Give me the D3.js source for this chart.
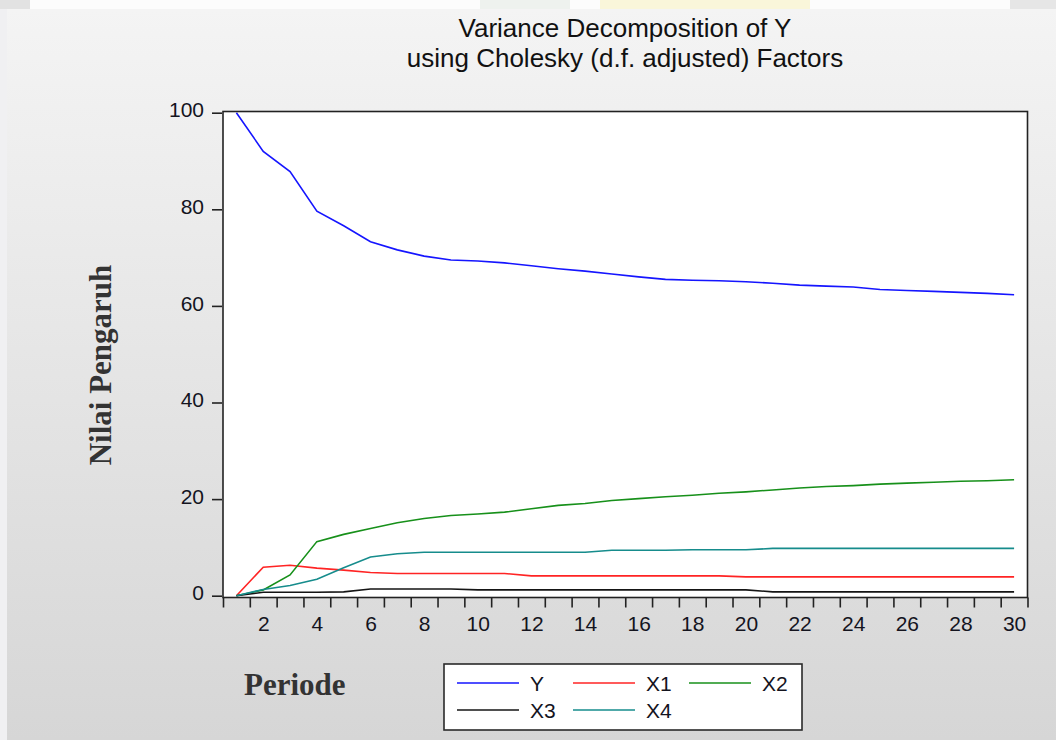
<!DOCTYPE html>
<html>
<head>
<meta charset="utf-8">
<script src="https://cdn.jsdelivr.net/npm/d3@7"></script>
<style>
  html, body { margin: 0; padding: 0; background: #f0f0f2; }
  svg { display: block; }
</style>
</head>
<body>
<svg id="main-svg" width="1056" height="740"></svg>
<script>
// Periods 1..30
const periods = d3.range(1, 31);

// Series values (percent of variance)
const seriesY = [100, 92.0, 87.8, 79.6, 76.6, 73.3, 71.6, 70.3, 69.5, 69.3,
                 68.9, 68.3, 67.7, 67.2, 66.6, 66.0, 65.5, 65.3, 65.2, 65.0,
                 64.7, 64.3, 64.1, 63.9, 63.4, 63.2, 63.0, 62.8, 62.6, 62.3];
const seriesX1 = [0, 5.9, 6.3, 5.7, 5.3, 4.8, 4.6, 4.6, 4.6, 4.6,
                  4.6, 4.1, 4.1, 4.1, 4.1, 4.1, 4.1, 4.1, 4.1, 3.9,
                  3.9, 3.9, 3.9, 3.9, 3.9, 3.9, 3.9, 3.9, 3.9, 3.9];
const seriesX2 = [0, 1.2, 4.3, 11.2, 12.7, 13.9, 15.1, 16.0, 16.6, 16.9,
                  17.3, 18.0, 18.7, 19.1, 19.7, 20.1, 20.5, 20.8, 21.2, 21.5,
                  21.9, 22.3, 22.6, 22.8, 23.1, 23.3, 23.5, 23.7, 23.8, 24.0];
const seriesX3 = [0, 0.7, 0.7, 0.7, 0.8, 1.4, 1.4, 1.4, 1.4, 1.2,
                  1.2, 1.2, 1.2, 1.2, 1.2, 1.2, 1.2, 1.2, 1.2, 1.2,
                  0.8, 0.8, 0.8, 0.8, 0.8, 0.8, 0.8, 0.8, 0.8, 0.8];
const seriesX4 = [0, 1.3, 2.1, 3.4, 5.8, 8.0, 8.7, 9.0, 9.0, 9.0,
                  9.0, 9.0, 9.0, 9.0, 9.4, 9.4, 9.4, 9.5, 9.5, 9.5,
                  9.8, 9.8, 9.8, 9.8, 9.8, 9.8, 9.8, 9.8, 9.8, 9.8];

const seriesNames = ['Y', 'X1', 'X2', 'X3', 'X4'];
const seriesColors = ['#1515ff', '#ff2424', '#17901a', '#151515', '#168c8c'];
const seriesValues = [seriesY, seriesX1, seriesX2, seriesX3, seriesX4];

const yTicks = [0, 20, 40, 60, 80, 100];
const xLabelTicks = [2, 4, 6, 8, 10, 12, 14, 16, 18, 20, 22, 24, 26, 28, 30];

const titleLines = ['Variance Decomposition of Y', 'using Cholesky (d.f. adjusted) Factors'];

const svg = d3.select('#main-svg');

// Background: gradient panel
const defs = svg.append('defs');
const grad = defs.append('linearGradient')
    .attr('id', 'bg-grad')
    .attr('x1', 0).attr('y1', 0).attr('x2', 0).attr('y2', 1);
grad.append('stop').attr('offset', '0%').attr('stop-color', '#f4f4f4');
grad.append('stop').attr('offset', '100%').attr('stop-color', '#d6d6d6');

svg.append('rect').attr('x', 0).attr('y', 0).attr('width', 1056).attr('height', 740)
    .attr('fill', '#f0f0f2');
svg.append('rect').attr('x', 7).attr('y', 9).attr('width', 1049).attr('height', 731)
    .attr('fill', 'url(#bg-grad)');
// top strip with faint watermark remains
svg.append('rect').attr('x', 0).attr('y', 0).attr('width', 1056).attr('height', 9)
    .attr('fill', '#fcfcfc');
svg.append('rect').attr('x', 0).attr('y', 0).attr('width', 30).attr('height', 9).attr('fill', '#e2e2e2');
svg.append('rect').attr('x', 480).attr('y', 0).attr('width', 90).attr('height', 9).attr('fill', '#eef2ee');
svg.append('rect').attr('x', 600).attr('y', 0).attr('width', 210).attr('height', 9).attr('fill', '#faf6da');
svg.append('rect').attr('x', 1010).attr('y', 0).attr('width', 46).attr('height', 9).attr('fill', '#e6e6e6');

// Scales
const x = d3.scaleLinear().domain([0.5, 30.5]).range([223, 1027.5]);
const y = d3.scaleLinear().domain([0, 100]).range([595.7, 112.7]);

// Plot area
svg.append('rect')
    .attr('x', x(0.5)).attr('y', 111.5)
    .attr('width', x(30.5) - x(0.5)).attr('height', 597.5 - 111.5)
    .attr('fill', '#ffffff');

// Lines
const line = d3.line()
    .x((d, i) => x(periods[i]))
    .y(d => y(d));

svg.append('g')
    .selectAll('path')
    .data(seriesValues)
    .enter()
    .append('path')
    .attr('d', d => line(d))
    .attr('fill', 'none')
    .attr('stroke', (d, i) => seriesColors[i])
    .attr('stroke-width', 1.6);

svg.append('rect')
    .attr('x', x(0.5)).attr('y', 111.5)
    .attr('width', x(30.5) - x(0.5)).attr('height', 597.5 - 111.5)
    .attr('fill', 'none')
    .attr('stroke', '#222')
    .attr('stroke-width', 1.6);

// Y axis
const yAxis = svg.append('g')
    .attr('transform', `translate(${x(0.5) - 1},0)`)
    .call(d3.axisLeft(y).tickValues(yTicks).tickSize(10).tickPadding(8));
yAxis.select('.domain').remove();
yAxis.selectAll('.tick line').attr('stroke', '#222').attr('stroke-width', 1.6);
yAxis.selectAll('.tick text')
    .attr('fill', '#14141e')
    .attr('font-family', 'Liberation Sans, Arial, sans-serif')
    .attr('font-size', 21)
    .attr('dy', '0.2em');

// X axis tick marks at period boundaries
const xTickMarks = svg.append('g')
    .attr('transform', 'translate(0,597.5)')
    .call(d3.axisBottom(x).tickValues(d3.range(0.5, 31, 1)).tickSize(10).tickFormat(''));
xTickMarks.select('.domain').remove();
xTickMarks.selectAll('.tick line').attr('stroke', '#222').attr('stroke-width', 1.6);

// X axis labels at period centers
const xLabels = svg.append('g')
    .attr('transform', 'translate(0,597.5)')
    .call(d3.axisBottom(x).tickValues(xLabelTicks).tickSize(0).tickPadding(19));
xLabels.select('.domain').remove();
xLabels.selectAll('.tick text')
    .attr('fill', '#14141e')
    .attr('font-family', 'Liberation Sans, Arial, sans-serif')
    .attr('font-size', 21);

// Title
svg.append('g')
    .selectAll('text')
    .data(titleLines)
    .enter()
    .append('text')
    .attr('x', 625)
    .attr('y', (d, i) => 36.5 + i * 30.5)
    .attr('text-anchor', 'middle')
    .attr('font-family', 'Liberation Sans, Arial, sans-serif')
    .attr('font-size', 26)
    .attr('fill', '#111')
    .text(d => d);

// Axis titles
svg.append('text')
    .attr('transform', 'translate(111,365) rotate(-90)')
    .attr('text-anchor', 'middle')
    .attr('font-family', 'Liberation Serif, Times New Roman, serif')
    .attr('font-weight', 'bold')
    .attr('font-size', 31)
    .attr('fill', '#333')
    .text('Nilai Pengaruh');

svg.append('text')
    .attr('x', 244)
    .attr('y', 695)
    .attr('font-family', 'Liberation Serif, Times New Roman, serif')
    .attr('font-weight', 'bold')
    .attr('font-size', 31)
    .attr('fill', '#333')
    .text('Periode');

// Legend
const legendCols = [457, 573, 689];
const legendRows = [683, 710];
const legend = svg.append('g');
legend.append('rect')
    .attr('x', 444).attr('y', 664).attr('width', 358).attr('height', 66)
    .attr('fill', '#ffffff').attr('stroke', '#2a2a2a').attr('stroke-width', 1.6);

const items = legend.selectAll('g.item')
    .data(seriesNames)
    .enter()
    .append('g')
    .attr('class', 'item')
    .attr('transform', (d, i) => `translate(${legendCols[i % 3]},${legendRows[Math.floor(i / 3)]})`);
items.append('line')
    .attr('x1', 0).attr('x2', 62).attr('y1', 0).attr('y2', 0)
    .attr('stroke', (d, i) => seriesColors[i])
    .attr('stroke-width', 1.6);
items.append('text')
    .attr('x', 73)
    .attr('y', 7.5)
    .attr('font-family', 'Liberation Sans, Arial, sans-serif')
    .attr('font-size', 21)
    .attr('fill', '#14141e')
    .text(d => d);
</script>
</body>
</html>
